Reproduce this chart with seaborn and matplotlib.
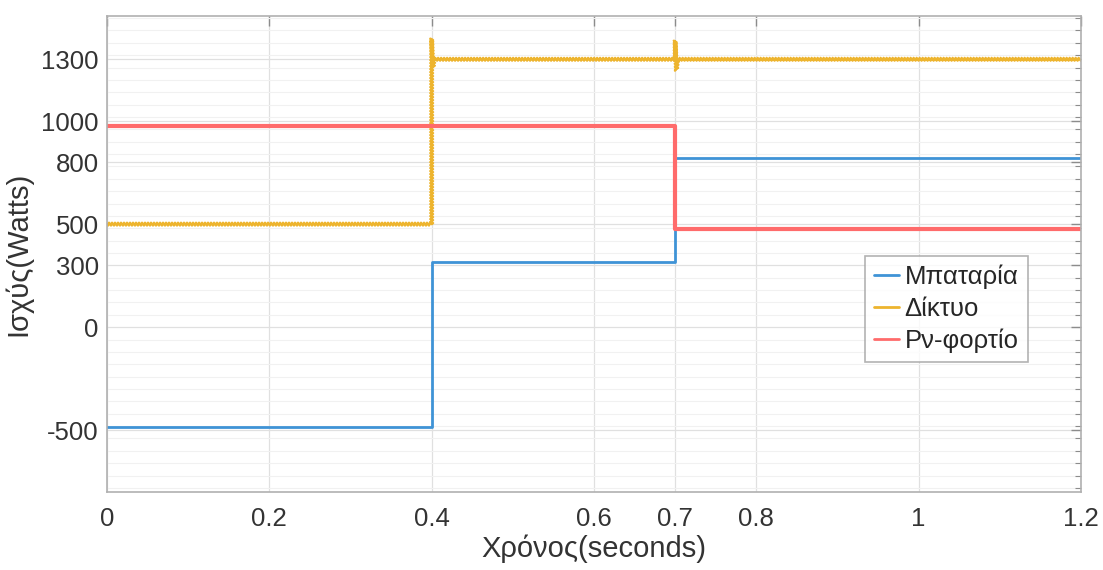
#!/usr/bin/env python3

import matplotlib

matplotlib.use("Agg")
import matplotlib.pyplot as plt
import pandas as pd
import seaborn as sns
from matplotlib.ticker import FixedLocator, MultipleLocator, NullLocator

# Power flows (time in s, power in W)
t_battery = [0.0, 0.4, 0.4, 0.7, 0.7, 1.2]
p_battery = [-485, -485, 315, 315, 820, 820]

t_grid = [0.0, 0.4, 0.4, 0.4015, 0.403, 0.7, 0.7, 0.7015, 0.703, 1.2]
p_grid = [500, 500, 1400, 1255, 1300, 1300, 1390, 1245, 1300, 1300]

t_load = [0.0, 0.7, 0.7, 1.2]
p_load = [978, 978, 476, 476]

series_names = ["Μπαταρία", "Δίκτυο", "Ρν-φορτίο"]
series_colors = ["#3f93d6", "#edb42e", "#ff6b6b"]

x_ticks = [0, 0.2, 0.4, 0.6, 0.7, 0.8, 1, 1.2]
x_tick_labels = ["0", "0.2", "0.4", "0.6", "0.7", "0.8", "1", "1.2"]
y_ticks = [-500, 0, 300, 500, 800, 1000, 1300]

df = pd.concat(
    [
        pd.DataFrame({"t": t_battery, "p": p_battery, "series": series_names[0]}),
        pd.DataFrame({"t": t_grid, "p": p_grid, "series": series_names[1]}),
        pd.DataFrame({"t": t_load, "p": p_load, "series": series_names[2]}),
    ],
    ignore_index=True,
)

sns.set_style("white")
plt.rcParams["font.family"] = ["Liberation Sans", "DejaVu Sans"]
plt.rcParams["axes.unicode_minus"] = False

fig = plt.figure(figsize=(11.03, 5.70), dpi=100)
ax = fig.add_axes([107 / 1103, 78 / 570, 974 / 1103, 476 / 570])

sns.lineplot(
    data=df,
    x="t",
    y="p",
    hue="series",
    hue_order=series_names,
    palette=series_colors,
    estimator=None,
    sort=False,
    ax=ax,
)

# line widths and the grid ripple
widths = [2.0, 1.7, 3.0]
for line, w in zip(ax.get_lines()[:3], widths):
    line.set_linewidth(w)
ax.get_lines()[1].set_sketch_params(scale=1.6, length=3, randomness=1)

ax.set_xlim(0, 1.2)
ax.set_ylim(-800, 1510)
ax.xaxis.set_major_locator(FixedLocator(x_ticks))
ax.set_xticklabels(x_tick_labels)
ax.xaxis.set_minor_locator(NullLocator())
ax.yaxis.set_major_locator(FixedLocator(y_ticks))
ax.yaxis.set_minor_locator(MultipleLocator(60))

ax.grid(which="major", color="#e0e0e0", linewidth=0.9)
ax.grid(which="minor", axis="y", color="#f1f1f1", linewidth=0.8)
ax.set_axisbelow(True)

ax.tick_params(
    which="both", direction="in", top=True, right=True,
    colors="#8c8c8c", labelcolor="#333333", labelsize=18.5,
)
ax.tick_params(which="major", length=7, width=1)
ax.tick_params(which="minor", length=4, width=0.8)
ax.tick_params(axis="x", pad=11)
ax.tick_params(axis="y", pad=6)
for s in ax.spines.values():
    s.set_color("#b0b0b0")
    s.set_linewidth(1.2)

ax.set_xlabel("Χρόνος(seconds)", fontsize=21, color="#333333", labelpad=2)
ax.set_ylabel("Ισχύς(Watts)", fontsize=21, color="#333333", labelpad=6)

leg = ax.legend(
    loc="upper left",
    bbox_to_anchor=(0.778, 0.496),
    fontsize=18.5,
    frameon=True,
    fancybox=False,
    edgecolor="#a0a0a0",
    handlelength=1.0,
    handletextpad=0.2,
    labelspacing=0.3,
    borderpad=0.35,
    borderaxespad=0,
)
leg.get_frame().set_linewidth(1.2)
for h in leg.get_lines():
    h.set_linewidth(2.0)
    h.set_sketch_params(None)

plt.savefig("out.png", dpi=100)
